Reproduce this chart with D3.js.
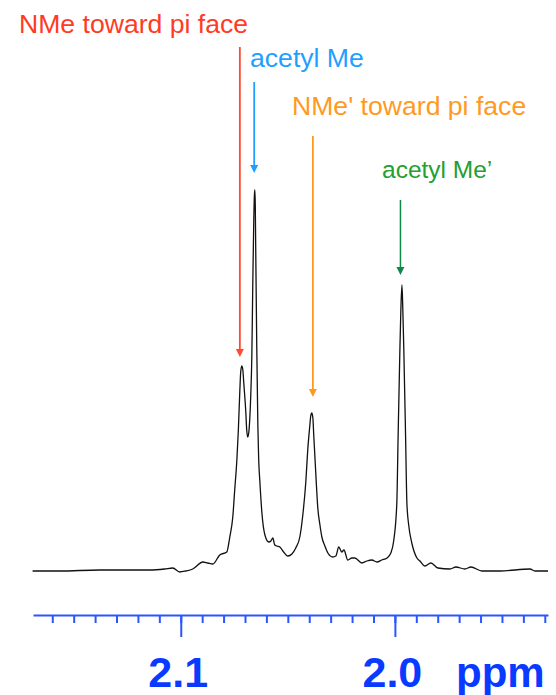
<!DOCTYPE html>
<html lang="en">
	<head>
		<meta charset="utf-8">
		<title>NMR spectrum</title>
		<script type="text/javascript" src="https://cdn.jsdelivr.net/npm/d3@7"></script>
		<style type="text/css">
			body { margin: 0; background: #fff; }
			svg { display: block; }
		</style>
	</head>
	<body>
		<script type="text/javascript">

			//Width and height
			var w = 556;
			var h = 695;

			//Spectrum trace: chemical shift (ppm) and intensity (arb.)
			var shifts = [2.1692, 2.1565, 2.1379, 2.1238, 2.1145, 2.1075, 2.1037, 2.1005, 2.0977, 2.0944,
				2.0897, 2.0874, 2.0850, 2.0818, 2.0785, 2.0771, 2.0757, 2.0748, 2.0738, 2.0731,
				2.0724, 2.0720, 2.0715, 2.0710, 2.0706, 2.0696, 2.0692, 2.0687, 2.0682, 2.0678,
				2.0673, 2.0668, 2.0664, 2.0659, 2.0656, 2.0654, 2.0652, 2.0650, 2.0645, 2.0640,
				2.0636, 2.0631, 2.0621, 2.0607, 2.0589, 2.0579, 2.0570, 2.0561, 2.0551, 2.0537,
				2.0523, 2.0500, 2.0481, 2.0463, 2.0444, 2.0430, 2.0416, 2.0407, 2.0397, 2.0393,
				2.0388, 2.0383, 2.0379, 2.0369, 2.0360, 2.0350, 2.0341, 2.0327, 2.0313, 2.0290,
				2.0276, 2.0262, 2.0248, 2.0238, 2.0220, 2.0201, 2.0187, 2.0154, 2.0131, 2.0107,
				2.0084, 2.0061, 2.0037, 2.0019, 2.0005, 1.9991, 1.9985, 1.9977, 1.9972, 1.9967,
				1.9963, 1.9958, 1.9950, 1.9944, 1.9935, 1.9921, 1.9897, 1.9883, 1.9860, 1.9832,
				1.9799, 1.9743, 1.9715, 1.9673, 1.9645, 1.9593, 1.9509, 1.9369, 1.9346, 1.9285];
			var intensity = [0, 0, 1, 1, 1, 2, 3, -1, 0, 2,
				9, 8, 7, 16, 19, 34, 54, 81, 111, 141,
				181, 199, 205, 201, 189, 158, 141, 134, 139, 151,
				176, 216, 281, 351, 376, 381, 366, 324, 224, 146,
				111, 91, 58, 36, 29, 30, 33, 26, 25, 24,
				20, 15, 17, 23, 34, 56, 89, 121, 146, 155,
				158, 153, 136, 96, 63, 46, 34, 25, 18, 14,
				15, 24, 19, 21, 11, 13, 13, 8, 10, 11,
				9, 11, 13, 18, 31, 68, 134, 218, 262, 286,
				262, 218, 134, 68, 45, 28, 13, 10, 5, 8,
				3, 2, 4, 2, 4, 0, 0, 2, 0, 0];

			//Peak annotations
			var annLabels = ["NMe toward pi face", "acetyl Me", "NMe' toward pi face", "acetyl Me\u2019"];
			var annShift = [2.0724, 2.0657, 2.0383, 1.9974];
			var annPeak = [205, 381, 158, 286];

			//Axis ticks
			var majorTicks = [2.1, 2.0];
			var majorLabels = ["2.1", "2.0"];
			var minorTicks = d3.range(193, 217).map(function(v) { return v / 100; });
			var axisUnit = "ppm";

			var xScale = d3.scaleLinear()
							.domain([2.169, 1.9285])
							.range([33, 548]);

			var yScale = d3.scaleLinear()
							.domain([0, 400])
							.range([571, 171]);

			//Create SVG element
			var svg = d3.select("body")
						.append("svg")
						.attr("width", w)
						.attr("height", h);

			//Spectrum
			var points = shifts.map(function(s, i) { return [s, intensity[i]]; });
			var line = d3.line()
						.x(function(d) { return xScale(d[0]); })
						.y(function(d) { return yScale(d[1]); })
						.curve(d3.curveMonotoneX);

			svg.append("path")
			   .datum(points)
			   .attr("d", line)
			   .attr("fill", "none")
			   .attr("stroke", "#111")
			   .attr("stroke-width", 1.3)
			   .attr("stroke-linejoin", "round");

			//Axis
			var axisY = 615;
			var axisColor = "#2a55ff";
			var labelColor = "#0a3aff";

			var minorAxis = d3.axisBottom(xScale)
							.tickValues(minorTicks)
							.tickSize(8)
							.tickSizeOuter(0)
							.tickFormat("");
			var gMinor = svg.append("g")
							.attr("transform", "translate(0," + axisY + ")")
							.call(minorAxis);
			gMinor.select(".domain").attr("stroke", axisColor).attr("stroke-width", 2.2);
			gMinor.selectAll(".tick line").attr("stroke", axisColor).attr("stroke-width", 2);

			var majorAxis = d3.axisBottom(xScale)
							.tickValues(majorTicks)
							.tickSize(22)
							.tickSizeOuter(0)
							.tickFormat(function(d, i) { return majorLabels[i]; });
			var gMajor = svg.append("g")
							.attr("transform", "translate(0," + axisY + ")")
							.call(majorAxis);
			gMajor.select(".domain").remove();
			gMajor.selectAll(".tick line").attr("stroke", axisColor).attr("stroke-width", 2);
			gMajor.selectAll(".tick text")
				  .attr("y", 72)
				  .attr("dy", 0)
				  .attr("dx", -3)
				  .attr("fill", labelColor)
				  .attr("font-family", "'Liberation Sans', Arial, sans-serif")
				  .attr("font-weight", "bold")
				  .attr("font-size", "43px");

			svg.append("text")
			   .text(axisUnit)
			   .attr("x", 456)
			   .attr("y", axisY + 72)
			   .attr("fill", labelColor)
			   .attr("font-family", "'Liberation Sans', Arial, sans-serif")
			   .attr("font-weight", "bold")
			   .attr("font-size", "42px");

			//Annotations: arrow top, label position, colours
			var annTop = [47, 82, 136, 200];
			var annGap = [9, 17, 16, 10];
			var annTextX = [19, 250, 292, 382];
			var annTextY = [33, 67, 115, 178];
			var annTextSize = [26.6, 26.6, 26.6, 24.5];
			var annTextColor = ["#ff3b24", "#1f9fff", "#ff9a1f", "#22a030"];
			var annLineColor = ["#ff4a30", "#1f9fff", "#ff9a1f", "#11884a"];

			annLabels.forEach(function(label, i) {
				var ax = xScale(annShift[i]);
				var tip = yScale(annPeak[i]) - annGap[i];

				svg.append("line")
				   .attr("x1", ax)
				   .attr("x2", ax)
				   .attr("y1", annTop[i])
				   .attr("y2", tip - 6)
				   .attr("stroke", annLineColor[i])
				   .attr("stroke-width", i == 3 ? 1.5 : 1.8);

				svg.append("path")
				   .attr("d", "M" + (ax - 4) + "," + (tip - 8) + "L" + (ax + 4) + "," + (tip - 8) + "L" + ax + "," + tip + "Z")
				   .attr("fill", annLineColor[i]);

				svg.append("text")
				   .text(label)
				   .attr("x", annTextX[i])
				   .attr("y", annTextY[i])
				   .attr("fill", annTextColor[i])
				   .attr("font-family", "'Liberation Sans', Arial, sans-serif")
				   .attr("font-size", annTextSize[i] + "px");
			});

		</script>
	</body>
</html>
